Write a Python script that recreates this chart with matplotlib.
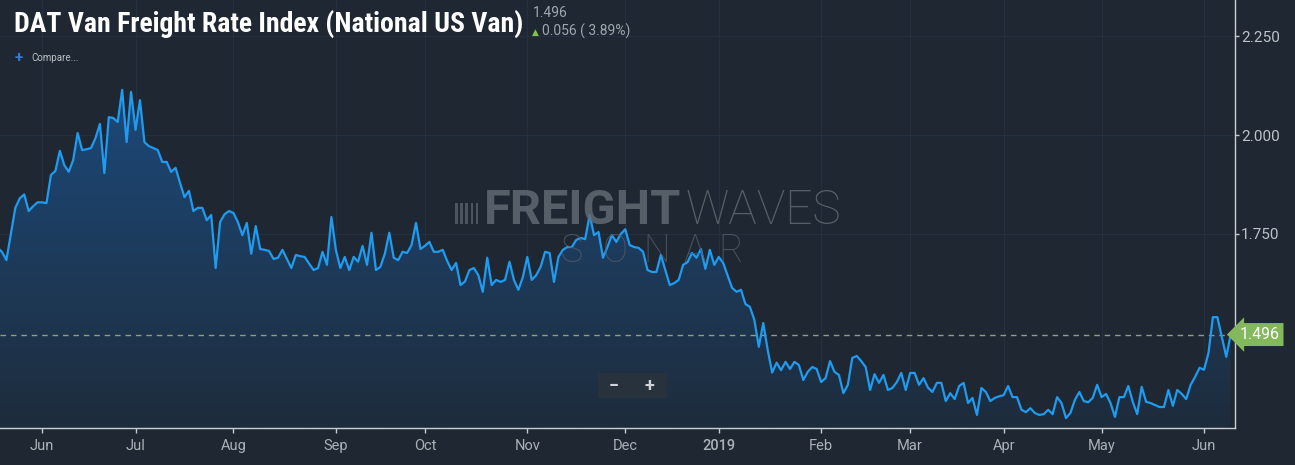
import os
import numpy as np
import pandas as pd
import matplotlib
matplotlib.use('Agg')
import matplotlib.pyplot as plt
from matplotlib import font_manager, transforms
from matplotlib.colors import LinearSegmentedColormap
from matplotlib.patches import Polygon, Rectangle

# DAT van rate, one value per business day starting at start_date
start_date = '2018-05-18'
rate_values = [
    1.715, 1.705, 1.684, 1.75, 1.816, 1.84, 1.85, 1.808, 1.82, 1.83,
    1.83, 1.828, 1.899, 1.909, 1.96, 1.924, 1.907, 1.937, 2.005, 1.962,
    1.964, 1.967, 1.992, 2.028, 1.904, 2.045, 2.043, 2.033, 2.114, 1.982,
    2.109, 2.013, 2.088, 1.982, 1.972, 1.967, 1.962, 1.932, 1.932, 1.907,
    1.917, 1.879, 1.843, 1.859, 1.808, 1.816, 1.816, 1.785, 1.798, 1.664,
    1.78, 1.80, 1.808, 1.803, 1.78, 1.747, 1.778, 1.70, 1.77, 1.712,
    1.71, 1.707, 1.687, 1.69, 1.71, 1.687, 1.664, 1.697, 1.694, 1.692,
    1.675, 1.659, 1.664, 1.705, 1.672, 1.793, 1.71, 1.664, 1.692, 1.659,
    1.692, 1.68, 1.72, 1.672, 1.753, 1.659, 1.667, 1.70, 1.753, 1.69,
    1.684, 1.705, 1.702, 1.722, 1.778, 1.712, 1.72, 1.73, 1.705, 1.705,
    1.71, 1.682, 1.659, 1.677, 1.621, 1.63, 1.659, 1.664, 1.646, 1.604,
    1.69, 1.621, 1.634, 1.629, 1.634, 1.68, 1.634, 1.609, 1.641, 1.692,
    1.634, 1.646, 1.667, 1.705, 1.702, 1.629, 1.692, 1.71, 1.717, 1.717,
    1.735, 1.74, 1.737, 1.798, 1.747, 1.755, 1.69, 1.717, 1.747, 1.73,
    1.75, 1.762, 1.722, 1.717, 1.715, 1.705, 1.659, 1.654, 1.654, 1.697,
    1.659, 1.621, 1.626, 1.634, 1.672, 1.679, 1.702, 1.69, 1.712, 1.662,
    1.71, 1.672, 1.692, 1.677, 1.645, 1.614, 1.604, 1.609, 1.573, 1.566,
    1.533, 1.465, 1.525, 1.457, 1.40, 1.425, 1.406, 1.427, 1.409, 1.427,
    1.419, 1.381, 1.402, 1.414, 1.409, 1.376, 1.386, 1.429, 1.402, 1.394,
    1.348, 1.369, 1.437, 1.442, 1.429, 1.414, 1.356, 1.396, 1.374, 1.394,
    1.356, 1.361, 1.376, 1.399, 1.356, 1.399, 1.399, 1.369, 1.386, 1.362,
    1.351, 1.374, 1.374, 1.328, 1.348, 1.333, 1.366, 1.374, 1.323, 1.336,
    1.293, 1.361, 1.351, 1.328, 1.336, 1.34, 1.343, 1.366, 1.338, 1.338,
    1.306, 1.30, 1.31, 1.298, 1.293, 1.295, 1.306, 1.295, 1.338, 1.323,
    1.285, 1.298, 1.331, 1.351, 1.328, 1.325, 1.336, 1.369, 1.338, 1.346,
    1.323, 1.288, 1.338, 1.338, 1.366, 1.326, 1.295, 1.364, 1.326, 1.323,
    1.318, 1.313, 1.313, 1.356, 1.316, 1.356, 1.346, 1.333, 1.369, 1.389,
    1.412, 1.407, 1.449, 1.54, 1.54, 1.49, 1.44, 1.496,
]
y_ticks = [1.75, 2.0, 2.25]
last_value = 1.496
day_change = 0.056
day_change_pct = 3.89
title = 'DAT Van Freight Rate Index (National US Van)'

BG = '#1f2832'
W, H = 1295, 465


def font_file(*names):
    files = {os.path.splitext(os.path.basename(f.fname))[0].lower(): f.fname
             for f in font_manager.fontManager.ttflist}
    for n in names:
        if n.lower() in files:
            return files[n.lower()]
    return None


def fx(px):
    return px / W


def fy(py):
    return 1 - py / H


def fit_width(txt, width_px, start=20):
    txt.set_fontsize(start)
    r = fig.canvas.get_renderer()
    txt.set_fontsize(start * width_px / txt.get_window_extent(r).width)


title_file = font_file('RobotoCondensed-Bold', 'LiberationSansNarrow-Bold',
                       'DejaVuSansCondensed-Bold', 'Roboto-Bold', 'DejaVuSans-Bold')
title_fp = font_manager.FontProperties(fname=title_file) if title_file else \
    font_manager.FontProperties(family='DejaVu Sans', weight='bold')

plt.rcParams['font.family'] = ['Roboto', 'DejaVu Sans']

dates = pd.bdate_range(start_date, periods=len(rate_values))
xs = np.arange(len(rate_values))
vals = np.array(rate_values)

fig = plt.figure(figsize=(W / 100, H / 100), dpi=100, facecolor=BG)
ax = fig.add_axes([0, 37 / H, 1234.5 / W, 1 - 37 / H])
ax.set_facecolor(BG)

ylo, yhi = 1.26, 2.341
ax.set_xlim(0.56, len(xs) - 1 + 0.85)
ax.set_ylim(ylo, yhi)

# gradient fill under the line
poly = Polygon(np.vstack([[xs[0], ylo], np.column_stack([xs, vals]), [xs[-1], ylo]]),
               closed=True, fc='none', ec='none')
ax.add_patch(poly)
cmap = LinearSegmentedColormap.from_list('fill', ['#1e2c3c', '#1c4c80'])
grad = np.linspace(1, 0, 256).reshape(-1, 1)
im = ax.imshow(grad, cmap=cmap, vmin=0, vmax=1, aspect='auto', origin='upper',
               extent=[xs[0], xs[-1], ylo, 2.2], zorder=1)
im.set_clip_path(poly)

# month ticks at first business day of each month
month_key = dates.year * 12 + dates.month
first_idx = [i for i in range(len(dates)) if i > 0 and month_key[i] != month_key[i - 1]]
tick_labels = [str(dates[i].year) if dates[i].month == 1 else dates[i].strftime('%b')
               for i in first_idx]
ax.set_xticks(first_idx)
ax.set_xticklabels(tick_labels)
for lbl in ax.get_xticklabels():
    if lbl.get_text().isdigit():
        lbl.set_color('#f2f4f6')
        lbl.set_fontweight('medium')

ax.yaxis.tick_right()
ax.set_yticks(y_ticks)
ax.set_yticklabels([f'{v:.3f}' for v in y_ticks])

for x in first_idx:
    ax.axvline(x, color='#233040', lw=0.8, zorder=0)
for y in y_ticks:
    ax.axhline(y, color='#233040', lw=0.8, zorder=0)

ax.tick_params(axis='x', colors='#c3c8cd', labelcolor='#aab1b8', length=3.6,
               width=1, pad=4, labelsize=10.5)
ax.tick_params(axis='y', colors='#c3c8cd', labelcolor='#bcc2c8', length=3.2,
               width=1, pad=1.5, labelsize=11)
for s in ['top', 'left']:
    ax.spines[s].set_visible(False)
for s in ['bottom', 'right']:
    ax.spines[s].set_color('#c9ced3')
    ax.spines[s].set_linewidth(1)

# watermark
wm_col = '#656d76'
fr = fig.text(fx(484), fy(224), 'FREIGHT', fontweight='bold', color=wm_col,
              alpha=0.8, va='baseline', zorder=2)
fit_width(fr, 197, 26)
wv = fig.text(fx(686), fy(224), 'WAVES', fontweight='light', color=wm_col,
              alpha=0.8, va='baseline', zorder=2)
fit_width(wv, 156, 26)
for i in range(5):
    fig.add_artist(Rectangle((fx(455 + i * 5.2), fy(224)), 2.6 / W, 21 / H,
                             transform=fig.transFigure, fc=wm_col, ec='none', alpha=0.65))
for ch, cx in zip('SONAR', [571, 615, 657, 695, 731]):
    fig.text(fx(cx), fy(262), ch, fontsize=27, fontweight='light', color='#515c68',
             alpha=0.85, ha='center', va='baseline')

ax.axhline(last_value, color='#909c84', lw=1, dashes=(4, 3.5), zorder=3)
ax.plot(xs, vals, color='#1f9bf0', lw=1.6, zorder=4)

lbl_tr = transforms.offset_copy(ax.get_yaxis_transform(), fig=fig, x=5, y=0, units='dots')
ax.text(1.0, last_value, f'{last_value:.3f}', transform=lbl_tr, ha='left', va='center',
        color='white', fontsize=11.5, clip_on=False, zorder=6,
        bbox=dict(boxstyle='larrow,pad=0.25', fc='#84b85c', ec='none'))

# zoom control
fig.add_artist(Rectangle((fx(598), fy(398)), 69 / W, 25 / H, transform=fig.transFigure,
                         fc='#28323d', ec='none'))
fig.text(fx(614), fy(386), '−', fontsize=13, fontweight='bold', color='#d0d4d8',
         ha='center', va='center')
fig.text(fx(649), fy(386), '+', fontsize=13, fontweight='bold', color='#d0d4d8',
         ha='center', va='center')

# header
t = fig.text(fx(14), fy(32), title, fontproperties=title_fp, color='white', va='baseline')
fit_width(t, 510, 20)

fig.text(fx(533), fy(17), f'{last_value:.3f}', fontsize=10, color='#9ea6ae', va='baseline')
fig.text(fx(532), fy(35), '▲', fontsize=6.5, color='#7cc24f', va='baseline',
         family='DejaVu Sans')
fig.text(fx(542), fy(36), f'{day_change:.3f} ( {day_change_pct:.2f}%)', fontsize=10,
         color='#9ea6ae', va='baseline')
fig.text(fx(19), fy(58), '+', fontsize=11, fontweight='bold', color='#2f7fd8',
         ha='center', va='center')
fig.text(fx(31), fy(58), 'Compare...', fontsize=7, color='#b9c0c7', va='center')

fig.savefig('out.png', dpi=100, facecolor=BG)
